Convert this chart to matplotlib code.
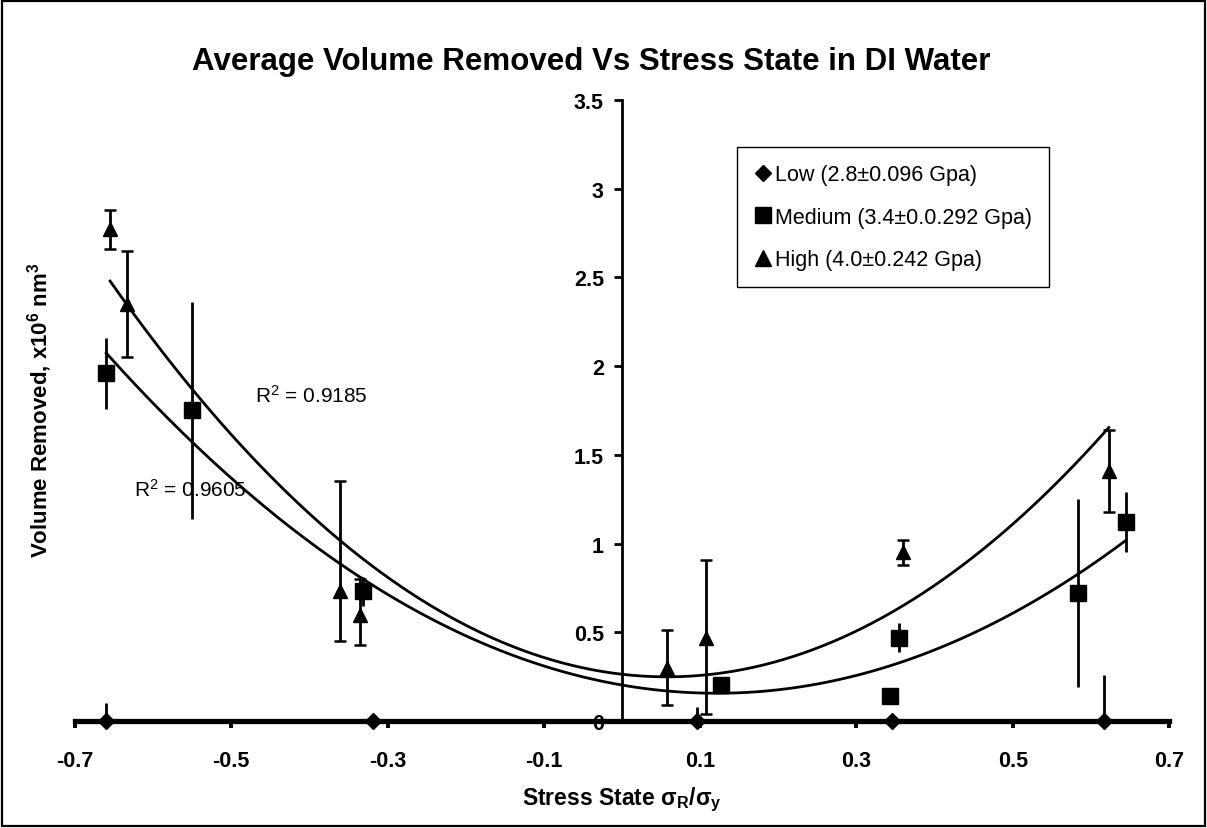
import numpy as np
import matplotlib
matplotlib.use("Agg")
import matplotlib.pyplot as plt
from matplotlib.patches import Rectangle
from matplotlib.lines import Line2D

plt.rcParams["font.family"] = ["Liberation Sans", "DejaVu Sans"]

# values
low_x = [-0.66, -0.318, 0.096, 0.345, 0.617]
low_y = [0.0, 0.0, 0.0, 0.0, 0.0]
low_err = [0.10, 0.0, 0.08, 0.0, 0.26]

medium_x = [-0.66, -0.55, -0.332, 0.127, 0.343, 0.355, 0.584, 0.645]
medium_y = [1.96, 1.75, 0.73, 0.20, 0.14, 0.47, 0.72, 1.12]
medium_err = [0.20, 0.61, 0.08, 0.0, 0.03, 0.08, 0.53, 0.17]

high_x = [-0.655, -0.633, -0.361, -0.335, 0.058, 0.108, 0.36, 0.623]
high_y = [2.77, 2.35, 0.73, 0.60, 0.30, 0.47, 0.95, 1.41]
high_err_lo = [0.11, 0.30, 0.28, 0.17, 0.21, 0.43, 0.07, 0.23]
high_err_hi = [0.11, 0.30, 0.62, 0.20, 0.21, 0.44, 0.07, 0.23]

legend_labels = ["Low (2.8\u00b10.096 Gpa)", "Medium (3.4\u00b10.0.292 Gpa)", "High (4.0\u00b10.242 Gpa)"]
r2_labels = ["R$\\mathregular{^2}$ = 0.9185", "R$\\mathregular{^2}$ = 0.9605"]
x_ticks = [-0.7, -0.5, -0.3, -0.1, 0.1, 0.3, 0.5, 0.7]
y_ticks = [0, 0.5, 1, 1.5, 2, 2.5, 3, 3.5]

fig = plt.figure(figsize=(12.07, 8.29), dpi=100)
fig.patches.append(Rectangle((0.002, 0.002), 0.996, 0.996, transform=fig.transFigure,
                             fill=False, edgecolor="black", linewidth=1.6))
ax = fig.add_axes([0.0621, 0.1291, 0.9064, 0.7491])

# quadratic trend lines (as Excel did)
for xs, ys in [(high_x, high_y), (medium_x, medium_y)]:
  coef = np.polyfit(xs, ys, 2)
  xx = np.linspace(min(xs), max(xs), 200)
  ax.plot(xx, np.polyval(coef, xx), color="black", lw=2.0, zorder=2)

ax.errorbar(low_x, low_y, yerr=[np.zeros(len(low_err)), low_err], fmt="D", color="black", ms=8.5,
            elinewidth=2.0, capsize=0, zorder=5, clip_on=False)
ax.errorbar(medium_x, medium_y, yerr=medium_err, fmt="s", color="black", ms=11,
            elinewidth=2.0, capsize=0, zorder=3)
ax.errorbar(high_x, high_y, yerr=[high_err_lo, high_err_hi], fmt="^", color="black", ms=10,
            elinewidth=2.0, capsize=4.2, capthick=1.8, zorder=3)

ax.text(-0.47, 1.84, r2_labels[0], fontsize=15, ha="left", va="center")
ax.text(-0.625, 1.31, r2_labels[1], fontsize=15, ha="left", va="center")

ax.set_xlim(-0.7, 0.7)
ax.set_ylim(0, 3.5)
ax.spines["top"].set_visible(False)
ax.spines["right"].set_visible(False)
ax.spines["left"].set_position(("data", 0))
ax.spines["left"].set_linewidth(2.0)
ax.spines["bottom"].set_linewidth(3.8)
ax.spines["bottom"].set_zorder(4)
ax.set_xticks(x_ticks)
ax.set_xticklabels(["%g" % t for t in x_ticks])
ax.set_yticks(y_ticks)
ax.set_yticklabels(["%g" % t for t in y_ticks])
ax.tick_params(axis="x", direction="out", length=5, width=2.8, pad=16, labelsize=15.5)
ax.tick_params(axis="y", direction="out", length=6, width=2.0, pad=7, labelsize=15.5)
for lab in ax.get_xticklabels() + ax.get_yticklabels():
  lab.set_fontweight("bold")

handles = [Line2D([], [], ls="none", marker=m, color="black", ms=s)
           for m, s in [("D", 8.5), ("s", 11), ("^", 11)]]
leg = ax.legend(handles, legend_labels, loc="upper left", bbox_to_anchor=(0.6106, 0.8215),
                bbox_transform=fig.transFigure,
                fontsize=15.5, frameon=True, fancybox=False, edgecolor="black", framealpha=1,
                handlelength=0.8, handletextpad=0.15, labelspacing=1.0, borderpad=0.8,
                borderaxespad=0)
leg.get_frame().set_linewidth(1.0)

fig.text(0.49, 0.925, "Average Volume Removed Vs Stress State in DI Water",
         fontsize=22.5, fontweight="bold", ha="center", va="center")
fig.text(0.515, 0.035, "Stress State \u03c3$\\mathregular{_R}$/\u03c3$\\mathregular{_y}$",
         fontsize=16.5, fontweight="bold", ha="center", va="center")
fig.text(0.033, 0.505, "Volume Removed, x10$\\mathregular{^6}$ nm$\\mathregular{^3}$",
         fontsize=16, fontweight="bold", ha="center", va="center", rotation=90)

fig.savefig("out.png", dpi=100)
